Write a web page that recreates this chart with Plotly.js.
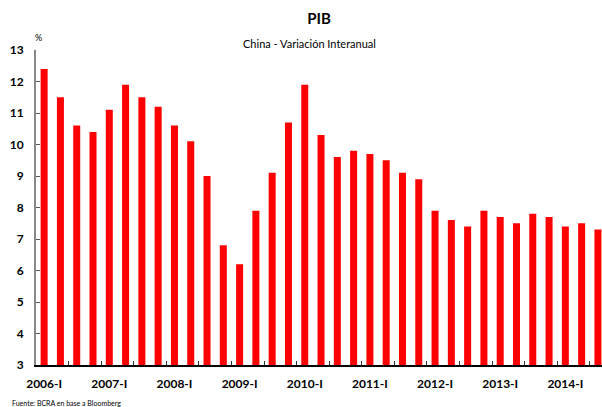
<!DOCTYPE html>
<html>
<head>
<meta charset="utf-8">
<script src="https://cdn.plot.ly/plotly-3.0.1.min.js"></script>
<style>html,body{margin:0;padding:0;background:#fff;}#chart{width:602px;height:407px;}</style>
</head>
<body>
<div id="chart"></div>
<script>
const quarters = [
  "2006-I","2006-II","2006-III","2006-IV",
  "2007-I","2007-II","2007-III","2007-IV",
  "2008-I","2008-II","2008-III","2008-IV",
  "2009-I","2009-II","2009-III","2009-IV",
  "2010-I","2010-II","2010-III","2010-IV",
  "2011-I","2011-II","2011-III","2011-IV",
  "2012-I","2012-II","2012-III","2012-IV",
  "2013-I","2013-II","2013-III","2013-IV",
  "2014-I","2014-II","2014-III"
];
const gdpGrowth = [
  12.4, 11.5, 10.6, 10.4,
  11.1, 11.9, 11.5, 11.2,
  10.6, 10.1, 9.0, 6.8,
  6.2, 7.9, 9.1, 10.7,
  11.9, 10.3, 9.6, 9.8,
  9.7, 9.5, 9.1, 8.9,
  7.9, 7.6, 7.4, 7.9,
  7.7, 7.5, 7.8, 7.7,
  7.4, 7.5, 7.3
];
const yearLabels = ["2006-I","2007-I","2008-I","2009-I","2010-I","2011-I","2012-I","2013-I","2014-I"];
const yTicks = [3,4,5,6,7,8,9,10,11,12,13];

const idx = quarters.map((q, i) => i);
const yearPos = yearLabels.map(l => quarters.indexOf(l));
const minorTicks = [];
for (let i = 1.5; i < quarters.length; i += 2) minorTicks.push(i);

const font = "Lato, 'Open Sans', sans-serif";

const trace = {
  type: "bar",
  x: idx,
  y: gdpGrowth,
  marker: {color: "#ff0000"},
  hoverinfo: "skip"
};
const dummy = {type: "scatter", x: [0], y: [3], xaxis: "x2", mode: "markers", marker: {opacity: 0}, hoverinfo: "skip", showlegend: false};

const layout = {
  width: 602, height: 407,
  margin: {l: 36, r: 0, t: 50, b: 42},
  paper_bgcolor: "#fff", plot_bgcolor: "#fff",
  showlegend: false,
  bargap: 0.57,
  font: {family: font, color: "#000"},
  xaxis: {
    range: [-0.5, 34.25],
    tickvals: minorTicks,
    ticktext: minorTicks.map(() => ""),
    ticks: "inside", ticklen: 4, tickwidth: 1, tickcolor: "#333",
    showgrid: false, zeroline: false,
    showline: true, linecolor: "#000", linewidth: 1.5
  },
  xaxis2: {
    overlaying: "x", matches: "x", anchor: "y", side: "bottom",
    tickvals: yearPos, ticktext: yearLabels,
    ticks: "", showgrid: false, zeroline: false, showline: false,
    ticklabelstandoff: 10,
    tickfont: {family: font, size: 12, color: "#000", weight: "bold"}
  },
  yaxis: {
    range: [3, 13],
    tickvals: yTicks,
    ticks: "inside", ticklen: 4, tickwidth: 1, tickcolor: "#555",
    showgrid: false, zeroline: false,
    showline: true, linecolor: "#888", linewidth: 2,
    ticklabelstandoff: 8,
    tickfont: {family: font, size: 12, color: "#000", weight: "bold"}
  },
  title: {
    text: "<b>PIB</b>",
    font: {family: font, size: 15, color: "#000"},
    x: 0.5, xref: "paper", y: 0.953, yref: "container", yanchor: "middle"
  },
  annotations: [
    {text: "China - Variación Interanual", xref: "paper", yref: "paper", x: 0.483, y: 1.0, yshift: 7, xanchor: "center", yanchor: "middle", showarrow: false, font: {family: font, size: 11, color: "#000"}},
    {text: "%", xref: "paper", yref: "paper", x: 0, y: 1.0, xshift: 2, yshift: 13, xanchor: "center", yanchor: "middle", showarrow: false, font: {family: font, size: 9, color: "#000"}},
    {text: "Fuente: BCRA en base a Bloomberg", xref: "paper", yref: "paper", x: 0, y: 0, xshift: -26, yshift: -32, xanchor: "left", yanchor: "top", showarrow: false, font: {family: font, size: 7, color: "#000"}}
  ]
};

Plotly.newPlot("chart", [trace, dummy], layout, {displayModeBar: false, staticPlot: true});
</script>
</body>
</html>
